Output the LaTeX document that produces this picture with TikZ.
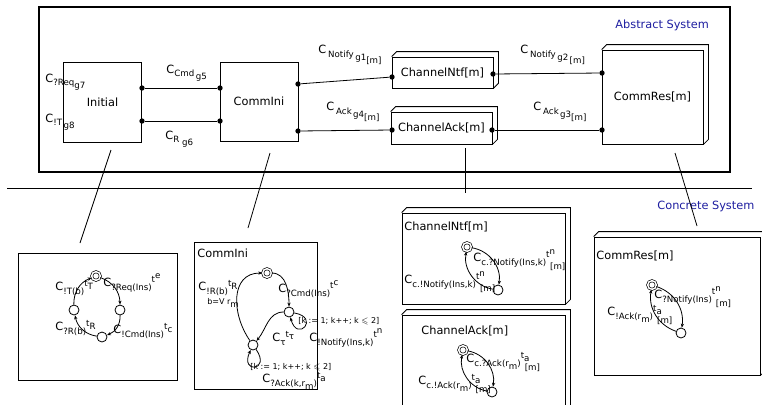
\documentclass[tikz,border=0pt]{standalone}
\usepackage{fontspec}
\setmainfont{DejaVu Sans}
\usepackage{amssymb}
\usetikzlibrary{arrows.meta,positioning,calc}
\definecolor{sysblue}{RGB}{30,30,160}

\newcommand{\lo}[1]{\raisebox{-0.6ex}{\fontsize{6.5}{7}\selectfont #1}}
\newcommand{\hi}[1]{\raisebox{0.7ex}{\fontsize{6.5}{7}\selectfont #1}}
\newcommand{\tm}[1]{\rlap{\hi{#1}}\raisebox{-1.3ex}{\fontsize{6.5}{7}\selectfont\hspace{3pt}[m]}}
\newcommand{\backbox}[1]{\draw (#1.north west) -- ++(5,-5) -| ([shift={(5,-5)}]#1.south east) -- (#1.south east);}

\begin{document}
\begin{tikzpicture}[x=0.75pt, y=-0.75pt, line width=0.6pt,
    font=\fontsize{8.5}{10}\selectfont,
    block/.style={rectangle, draw, fill=white, inner sep=0pt},
    dot/.style={circle, fill=black, inner sep=0pt, minimum size=4pt},
    loc/.style={circle, draw, fill=white, inner sep=0pt, minimum size=7.5pt},
    iniloc/.style={circle, draw, fill=white, double, double distance=1.1pt, line width=0.5pt, inner sep=0pt, minimum size=6.5pt},
    arrow/.style={-{Stealth[length=3pt, width=2.4pt]}},
    small/.style={font=\fontsize{6}{7}\selectfont},
    lab/.style={anchor=west, inner sep=0pt},
    sysname/.style={lab, text=sysblue}
]
\useasboundingbox (0,0) rectangle (762,404);

% abstract system
\draw[line width=1.5pt] (39,7) rectangle (730,172);
\node[sysname] (abst) at (615,25) {Abstract System};

\node[block, minimum width=59pt, minimum height=60pt] (init) at (102.5,102) {Initial};
\node[block, minimum width=58.5pt, minimum height=59.25pt] (cmini) at (259,101.5) {CommIni};
\node[block, minimum width=75.75pt, minimum height=23.25pt] (ntf) at (442.5,72.5) {ChannelNtf[m]};
\backbox{ntf}
\node[block, minimum width=75.75pt, minimum height=24pt] (ack) at (441.5,128) {ChannelAck[m]};
\backbox{ack}
\node[block, minimum width=75.75pt, minimum height=70.5pt] (res) at (652.5,97) {CommRes[m]};
\backbox{res}

\node[dot] (ini1) at (142,88) {};
\node[dot] (ini2) at (142,121) {};
\node[dot] (cmi1) at (220,88) {};
\node[dot] (cmi2) at (220,121) {};
\node[dot] (cmo1) at (298,84) {};
\node[dot] (cmo2) at (298,131) {};
\node[dot] (ntfi) at (392,77) {};
\node[dot] (ntfo) at (493,74) {};
\node[dot] (acki) at (392,130) {};
\node[dot] (acko) at (492,130) {};
\node[dot] (res1) at (602,73) {};
\node[dot] (res2) at (602,130) {};

\draw (ini1) -- (cmi1);
\draw (ini2) -- (cmi2);
\draw (cmo1) -- (ntfi);
\draw (cmo2) -- (acki);
\draw (ntfo) -- (res1);
\draw (acko) -- (res2);

\node[lab] (g7) at (45,82) {C\lo{?Req\lo{g7}}};
\node[lab] (g8) at (45,122) {C\lo{!T\,\lo{g8}}};
\node[lab] (g5) at (166,73) {C\lo{Cmd\,\lo{g5}}};
\node[lab] (g6) at (165,139) {C\lo{R\,\,\lo{g6}}};
\node[lab] (g1) at (318,55) {C\,\lo{Notify\,\lo{g1\lo{[m]}}}};
\node[lab] (g4) at (326,112) {C\,\lo{Ack\,\lo{g4\lo{[m]}}}};
\node[lab] (g2) at (520,55) {C\,\lo{Notify\,\lo{g2\,\lo{[m]}}}};
\node[lab] (g3) at (533,112) {C\,\lo{Ack\,\lo{g3\lo{[m]}}}};

% concrete system
\draw (7,188) -- (752,188);
\node[sysname] (conc) at (657,206) {Concrete System};

\node[block, minimum width=119.25pt, minimum height=95.25pt] (linit) at (97.5,316.5) {};
\node[block, minimum width=92.25pt, minimum height=110.25pt] (lcmini) at (255.5,315.5) {};
\node[block, minimum width=122.25pt, minimum height=68.25pt] (lntf) at (483.5,258.5) {};
\backbox{lntf}
\node[block, minimum width=122.25pt, minimum height=72.75pt] (lack) at (483.5,363.5) {};
\backbox{lack}
\node[block, minimum width=124.5pt, minimum height=103.5pt] (lres) at (677,306) {};
\backbox{lres}

\node[lab] (tcmini) at (197,253) {CommIni};
\node[lab] (tntf) at (404,227) {ChannelNtf[m]};
\node[lab] (tack) at (421,331) {ChannelAck[m]};
\node[lab] (tres) at (596,256) {CommRes[m]};

\coordinate (m1a) at (111,150);
\coordinate (m1b) at (80,243);
\coordinate (m2a) at (270,153);
\coordinate (m2b) at (248,228);
\coordinate (m3a) at (465,148);
\coordinate (m3b) at (465,193);
\coordinate (m4a) at (675,153);
\coordinate (m4b) at (697,226);
\draw (m1a) -- (m1b);
\draw (m2a) -- (m2b);
\draw (m3a) -- (m3b);
\draw (m4a) -- (m4b);

% Initial automaton
\node[iniloc] (i0) at (96,276) {};
\node[loc] (i1) at (120,310) {};
\node[loc] (i2) at (102,337) {};
\node[loc] (i3) at (74,310) {};
\draw[arrow] (i0) to[bend left=35] (i1);
\draw[arrow] (i1) to[bend left=35] (i2);
\draw[arrow] (i2) to[bend left=35] (i3);
\draw[arrow] (i3) to[bend left=35] (i0);
\node[lab] (ireq) at (103,283) {C\lo{?Req(Ins)}\hi{t\hi{e}}};
\node[lab] (it) at (55,288) {C\lo{!T(b)}\hi{t\lo{T}}};
\node[lab] (ir) at (55,328) {C\lo{?R(b)}\hi{t\lo{R}}};
\node[lab] (icmd) at (113,331) {C\lo{!Cmd(Ins)}\hi{t\lo{c}}};

% CommIni automaton
\node[iniloc] (c0) at (267,273) {};
\node[loc] (c1) at (289,312) {};
\node[loc] (c2) at (253,345) {};
\draw[arrow] (c0) to[out=0, in=90] (c1);
\draw[arrow] (c1) to[loop, out=-10, in=-75, min distance=20pt] (c1);
\draw[arrow] (c1) to[out=180, in=50] (c2);
\draw[arrow] (c2) to[loop, out=-55, in=-115, min distance=20pt] (c2);
\draw[arrow] (c2) to[out=125, in=180, looseness=1.2] (c0);
\node[lab] (ccmd) at (278,289) {C\lo{?Cmd(Ins)}\hi{t\hi{c}}};
\node[lab, small] (ck1) at (298,321) {[k := 1; k++; k $\leqslant$ 2]};
\node[lab] (cntf) at (309,338) {C\lo{!Notify(Ins,k)}\hi{t\hi{n}}};
\node[lab] (ctau) at (272,338) {C\lo{τ}\hi{t\lo{τ}}};
\node[lab, small] (ck2) at (250,367) {[k := 1; k++; k $\leqslant$ 2]};
\node[lab] (cack) at (262,381) {C\lo{?Ack(k,r\lo{m})}\hi{t\lo{a}}};
\node[lab] (cr) at (198,288) {C\lo{!R(b)}\hi{t\lo{R}}};
\node[lab, small] (cb) at (207,303) {b=V r\lo{m}};

% ChannelNtf automaton
\node[iniloc] (n0) at (467,247) {};
\node[loc] (n1) at (498,290) {};
\draw[arrow] (n0) to[bend left=45] (n1);
\draw[arrow] (n1) to[bend left=45] (n0);
\node[lab] (nrecv) at (473,260) {C\lo{c.?Notify(Ins,k)}\tm{t\hi{n}}};
\node[lab] (nsend) at (404,282) {C\lo{c.!Notify(Ins,k)}\tm{t\hi{n}}};

% ChannelAck automaton
\node[iniloc] (a0) at (463,350) {};
\node[loc] (a1) at (492,392) {};
\draw[arrow] (a0) to[bend left=45] (a1);
\draw[arrow] (a1) to[bend left=45] (a0);
\node[lab] (arecv) at (466,362) {C\lo{c.?Ack(r\lo{m})}\tm{t\lo{a}}};
\node[lab] (asend) at (418,384) {C\lo{c.!Ack(r\lo{m})}\tm{t\lo{a}}};

% CommRes automaton
\node[iniloc] (r0) at (652,285) {};
\node[loc] (r1) at (681,333) {};
\draw[arrow] (r0) to[bend left=40] (r1);
\draw[arrow] (r1) to[bend left=40] (r0);
\node[lab] (rrecv) at (654,297) {C\lo{?Notify(Ins)}\tm{t\hi{n}}};
\node[lab] (rsend) at (607,315) {C\lo{!Ack(r\lo{m})}\tm{t\lo{a}}};
\end{tikzpicture}
\end{document}
